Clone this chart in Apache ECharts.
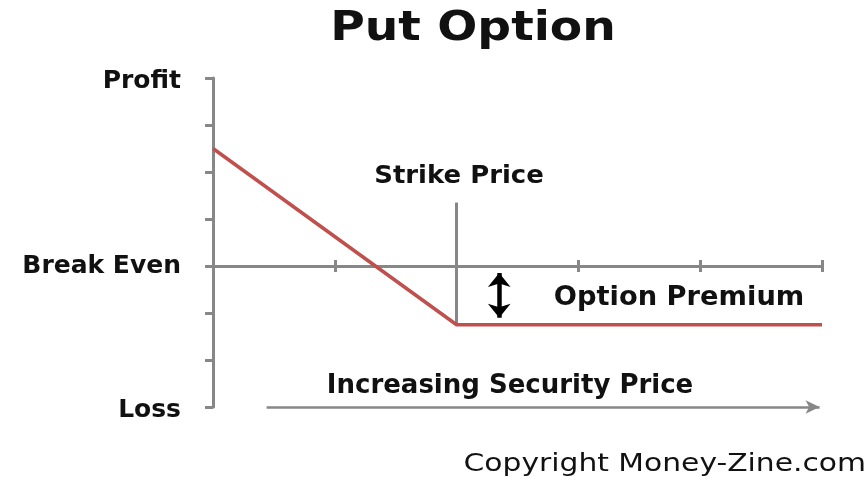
<!DOCTYPE html>
<html>
<head>
<meta charset="utf-8">
<script src="https://cdn.jsdelivr.net/npm/echarts@6/dist/echarts.min.js"></script>
<style>html,body{margin:0;padding:0;background:#fff}#c{width:867px;height:478px}</style>
</head>
<body>
<div id="c"></div>
<script>
// ---- data ----
var titleText = 'Put Option';
var xTicks = [0, 1, 2, 3, 4, 5];
var yLabels = { '4': 'Profit', '0': 'Break Even', '-3': 'Loss' };
var payoffX = [0, 2, 5];
var payoffY = [2.5, -1.25, -1.25];
var strikePrice = 2;
var strikeLineTop = 1.35;
var premiumArrowX = 2.35;
var premiumArrowY = [-0.15, -1.1];
var priceArrowX = [0.44, 4.98];
var priceArrowY = -3;

var axisColor = '#878787';
var redColor = '#c0504d';
var textColor = '#111111';
var boldFont = 'DejaVu Sans';

var chart = echarts.init(document.getElementById('c'), null, {renderer: 'canvas'});
var lineData = payoffX.map(function (x, i) { return [x, payoffY[i]]; });

var option = {
  backgroundColor: '#ffffff',
  animation: false,
  grid: { left: 213, right: 45, top: 78, bottom: 71, containLabel: false },
  xAxis: [{
    type: 'value', min: xTicks[0], max: xTicks[xTicks.length - 1], interval: 1,
    axisLine: { onZero: true, lineStyle: { color: axisColor, width: 3 } },
    axisTick: { show: true, inside: false, length: 6, lineStyle: { color: axisColor, width: 3 } },
    axisLabel: { show: false },
    splitLine: { show: false }
  }, {
    type: 'value', min: xTicks[0], max: xTicks[xTicks.length - 1], interval: 1, position: 'bottom', offset: -141,
    axisLine: { show: false, onZero: false },
    axisTick: { show: true, inside: true, length: 6, lineStyle: { color: axisColor, width: 3 } },
    axisLabel: { show: false },
    splitLine: { show: false }
  }],
  yAxis: {
    type: 'value', min: -3, max: 4, interval: 1,
    axisLine: { show: true, onZero: false, lineStyle: { color: axisColor, width: 3 } },
    axisTick: { show: true, inside: false, length: 8, lineStyle: { color: axisColor, width: 3 } },
    axisLabel: {
      show: true, margin: 32,
      color: textColor, fontFamily: boldFont, fontWeight: 'bold', fontSize: 25,
      formatter: function (v) {
        var t = yLabels[String(v)] || '';
        if (v === 0 || !t) return t;
        return '{d|' + t + '}';
      },
      rich: {
        d: { color: textColor, fontFamily: boldFont, fontWeight: 'bold', fontSize: 25, padding: [7, 0, 0, 0] }
      }
    },
    splitLine: { show: false }
  },
  series: [{
    type: 'line',
    data: lineData,
    symbol: 'none',
    lineStyle: { color: redColor, width: 3.5 },
    z: 5,
    markLine: {
      silent: true,
      symbol: ['none', 'none'],
      label: { show: false },
      data: [
        [{ coord: [strikePrice, payoffY[1]], lineStyle: { color: axisColor, width: 3, type: 'solid' } },
         { coord: [strikePrice, strikeLineTop] }],
        [{ coord: [premiumArrowX, premiumArrowY[0]], symbol: 'arrow', symbolSize: [17, 14], lineStyle: { color: '#000', width: 4.5, type: 'solid' } },
         { coord: [premiumArrowX, premiumArrowY[1]], symbol: 'arrow', symbolSize: [17, 14] }],
        [{ coord: [priceArrowX[0], priceArrowY], symbol: 'none', lineStyle: { color: axisColor, width: 2.5, type: 'solid' } },
         { coord: [priceArrowX[1], priceArrowY], symbol: 'arrow', symbolSize: [10, 14] }]
      ]
    }
  }],
  graphic: [
    { type: 'text', x: 473, y: 29, scaleX: 1.15, style: { text: titleText, font: 'bold 41px "DejaVu Sans"', fill: textColor, align: 'center', verticalAlign: 'middle' } },
    { type: 'text', x: 459, y: 177, scaleX: 1.08, style: { text: 'Strike Price', font: 'bold 24px "DejaVu Sans"', fill: textColor, align: 'center', verticalAlign: 'middle' } },
    { type: 'text', x: 679, y: 298, scaleX: 1.05, style: { text: 'Option Premium', font: 'bold 26px "DejaVu Sans"', fill: textColor, align: 'center', verticalAlign: 'middle' } },
    { type: 'text', x: 510, y: 386, style: { text: 'Increasing Security Price', font: 'bold 26px "DejaVu Sans"', fill: textColor, align: 'center', verticalAlign: 'middle' } },
    { type: 'text', x: 866, y: 464, scaleX: 1.19, style: { text: 'Copyright Money-Zine.com', font: '25px "DejaVu Sans"', fill: textColor, align: 'right', verticalAlign: 'middle' } }
  ]
};
chart.setOption(option);
</script>
</body>
</html>
